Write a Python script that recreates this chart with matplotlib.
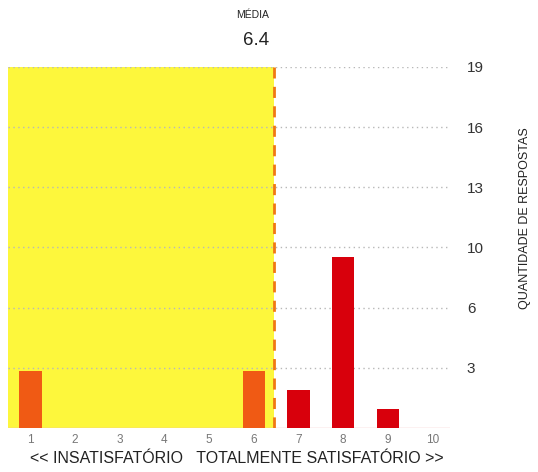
import numpy as np
import matplotlib.pyplot as plt

plt.rcParams['font.family'] = ['Liberation Sans', 'DejaVu Sans']

scores = [1, 2, 3, 4, 5, 6, 7, 8, 9, 10]
counts = [3, 0, 0, 0, 0, 3, 2, 9, 1, 0]
ymax = 19
ytick_vals = [ymax * k / 6 for k in range(1, 7)]
ytick_labels = ['3', '6', '10', '13', '16', '19']

mean = np.dot(scores, counts) / sum(counts)

fig = plt.figure(figsize=(5.38, 4.72), dpi=100)
ax = fig.add_axes([0.0149, 0.0932, 0.822, 0.765])

# yellow zone up to the mean
ax.axvspan(0.5, mean, color='#fdf73c', zorder=0, lw=0)

# dotted grid
for yv in ytick_vals:
    ax.axhline(yv, color='#b8b8b8', ls=(0, (1, 2.5)), lw=1, zorder=1)
ax.axhline(0, color='#f0b8b8', lw=1, zorder=1)

colors = ['#f05a14' if s < mean else '#d8000c' for s in scores]
ax.bar(scores, counts, width=0.5, color=colors, zorder=2)

ax.plot([mean, mean], [0, ymax], color='#f07814', lw=2, ls=(0, (4, 3)), zorder=3)

ax.set_xlim(0.5, 10.4)
ax.set_ylim(0, ymax)
ax.set_xticks(scores)
ax.set_xticklabels([str(s) for s in scores], color='#777777', fontsize=8.5)
ax.set_yticks(ytick_vals)
ax.set_yticklabels(ytick_labels, color='#333333', fontsize=11)
ax.yaxis.tick_right()
ax.tick_params(axis='both', length=0)
ax.tick_params(axis='y', pad=12)
ax.tick_params(axis='x', pad=4)
for s in ax.spines.values():
    s.set_visible(False)

ax.set_xlabel('<< INSATISFATÓRIO   TOTALMENTE SATISFATÓRIO >>', fontsize=11.5,
              color='#222222')
ax.xaxis.set_label_coords(0.518, -0.065)
ax.yaxis.set_label_position('right')
ax.set_ylabel('QUANTIDADE DE RESPOSTAS', fontsize=9, color='#222222')
ax.yaxis.set_label_coords(1.155, 0.58)

ax.text(mean - 0.1, ymax + 2.75, 'MÉDIA', ha='right', va='center', fontsize=7.5,
        color='#222222')
ax.text(mean - 0.1, ymax + 1.4, f'{mean:.1f}', ha='right', va='center', fontsize=13.5,
        color='#222222')

fig.savefig('out.png', dpi=100)
